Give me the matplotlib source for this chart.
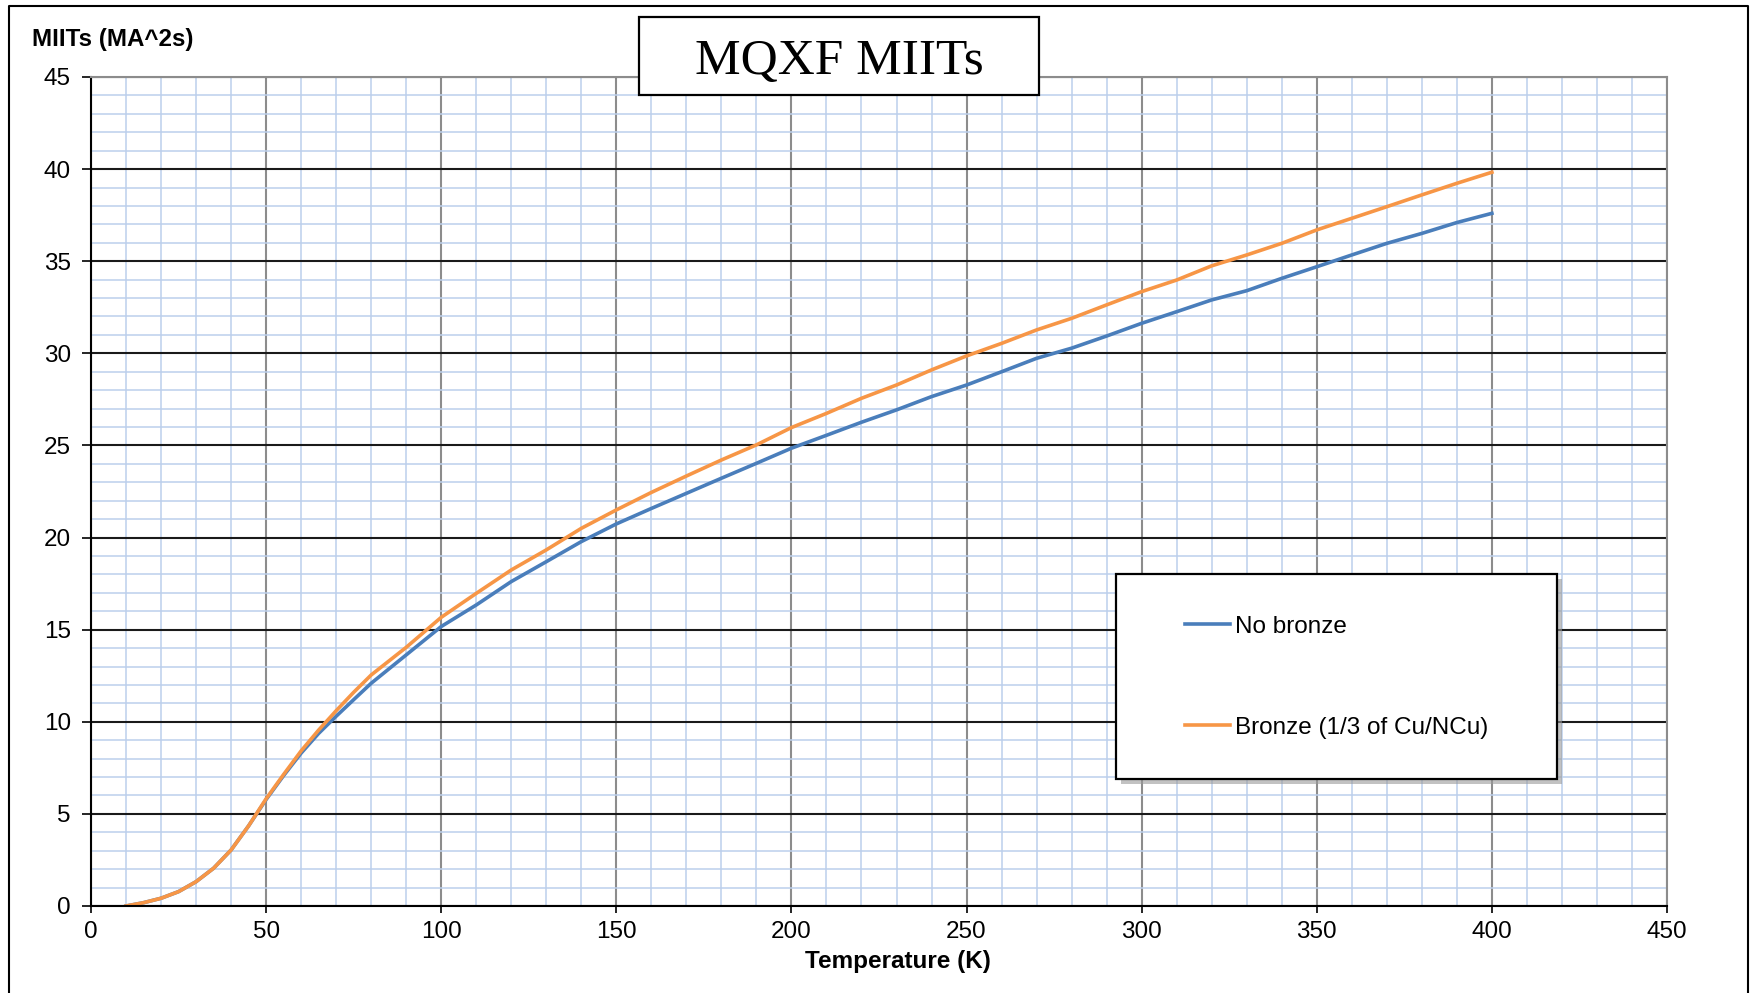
import matplotlib
matplotlib.use("Agg")
import matplotlib.pyplot as plt
from matplotlib.lines import Line2D
from matplotlib.patches import Rectangle
from matplotlib.ticker import MultipleLocator

plt.rcParams["font.family"] = ["Liberation Sans", "DejaVu Sans"]

# MIITs integral vs. temperature (finer steps where the curve bends)
temperature = [10, 15, 20, 25, 30, 35, 40, 45, 50, 55, 60, 65, 70, 75, 80, 90, 100,
               110, 120, 130, 140, 150, 160, 170, 180, 190, 200,
               210, 220, 230, 240, 250, 260, 270, 280, 290, 300,
               310, 320, 330, 340, 350, 360, 370, 380, 390, 400]
miits_no_bronze = [0.0, 0.18, 0.42, 0.78, 1.32, 2.05, 3.04, 4.35, 5.78, 7.08, 8.30, 9.37,
                   10.30, 11.20, 12.09, 13.63, 15.17,
                   16.34, 17.61, 18.69, 19.78, 20.74, 21.58, 22.40, 23.22, 24.03, 24.85,
                   25.55, 26.26, 26.93, 27.65, 28.28, 29.00, 29.73, 30.28, 30.94, 31.63,
                   32.26, 32.90, 33.40, 34.07, 34.70, 35.34, 35.97, 36.51, 37.10, 37.60]
miits_bronze = [0.0, 0.18, 0.42, 0.78, 1.32, 2.05, 3.04, 4.35, 5.82, 7.14, 8.42, 9.55,
                10.60, 11.60, 12.54, 14.04, 15.67,
                16.97, 18.24, 19.33, 20.50, 21.50, 22.45, 23.34, 24.21, 25.03, 25.97,
                26.74, 27.56, 28.28, 29.10, 29.86, 30.54, 31.27, 31.90, 32.63, 33.35,
                33.98, 34.75, 35.34, 35.97, 36.70, 37.33, 37.96, 38.60, 39.23, 39.83]
series_labels = ["No bronze", "Bronze (1/3 of Cu/NCu)"]

W, H = 1752, 993


def fx(x):
    return x / W


def fy(y):
    return 1 - y / H


fig = plt.figure(figsize=(W / 100, H / 100), dpi=100)
ax = fig.add_axes([fx(91), fy(906), fx(1667) - fx(91), fy(77) - fy(906)])

ax.plot(temperature, miits_no_bronze, color="#4a7ebb", lw=2.6, label=series_labels[0])
ax.plot(temperature, miits_bronze, color="#f79646", lw=2.6, label=series_labels[1])

ax.set_xlim(0, 450)
ax.set_ylim(0, 45)
ax.xaxis.set_major_locator(MultipleLocator(50))
ax.xaxis.set_minor_locator(MultipleLocator(10))
ax.yaxis.set_major_locator(MultipleLocator(5))
ax.yaxis.set_minor_locator(MultipleLocator(1))

ax.set_axisbelow(True)
ax.grid(which="minor", color="#bccfec", lw=1.1)
ax.xaxis.grid(which="major", color="#8c8c8c", lw=1.5)
ax.yaxis.grid(which="major", color="#1a1a1a", lw=1.5)

for side in ("left", "bottom"):
    ax.spines[side].set_color("black")
    ax.spines[side].set_linewidth(1.5)
for side in ("top", "right"):
    ax.spines[side].set_color("#8c8c8c")
    ax.spines[side].set_linewidth(1.5)

ax.tick_params(which="minor", length=0)
ax.tick_params(axis="y", which="major", length=6.5, width=1.2, pad=8, labelsize=17.5)
ax.tick_params(axis="x", which="major", length=5, width=1.2, pad=6, labelsize=17.5)

fig.text(fx(898), fy(968), "Temperature (K)", fontsize=17.5, fontweight="bold",
         ha="center", va="baseline")
fig.text(fx(32), fy(46), "MIITs (MA^2s)", fontsize=17.4, fontweight="bold",
         ha="left", va="baseline")

# legend box with a soft drop shadow, entries placed inside without their own frame
box_x0, box_y0, box_x1, box_y1 = 1116, 574, 1557, 779
shadow = Rectangle((fx(box_x0 + 5), fy(box_y1 + 5)), fx(box_x1 - box_x0), fy(box_y0) - fy(box_y1),
                   transform=fig.transFigure, facecolor="#9a9a9a", edgecolor="none",
                   alpha=0.6, zorder=2)
frame = Rectangle((fx(box_x0), fy(box_y1)), fx(box_x1 - box_x0), fy(box_y0) - fy(box_y1),
                  transform=fig.transFigure, facecolor="white", edgecolor="black",
                  lw=1.6, zorder=3)
fig.add_artist(shadow)
fig.add_artist(frame)
leg = ax.legend(loc="center left", bbox_to_anchor=(fx(1185), fy(677)),
                bbox_transform=fig.transFigure, frameon=False, fontsize=17.5,
                handlelength=1.85, handletextpad=0.2, labelspacing=3.25,
                borderpad=0, borderaxespad=0)
leg.set_zorder(4)
fig.add_artist(leg)

# boxed chart title
title_box = Rectangle((fx(639), fy(95)), fx(1039 - 639), fy(17) - fy(95),
                      transform=fig.transFigure, facecolor="white", edgecolor="black",
                      lw=1.6, zorder=3)
fig.add_artist(title_box)
fig.text(fx(839), fy(62), "MQXF MIITs", family=["Liberation Serif", "DejaVu Serif"],
         fontsize=37, ha="center", va="center", zorder=4)

# outer frame around the figure
fig.add_artist(Line2D([fx(9), fx(9), fx(1748), fx(1748)], [0, fy(6), fy(6), 0],
                      transform=fig.transFigure, color="black", lw=1.5))

fig.savefig("out.png", dpi=100)
